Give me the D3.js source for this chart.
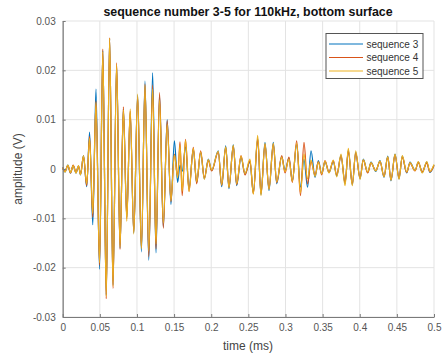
<!DOCTYPE html>
<html><head><meta charset="utf-8">
<script src="https://cdn.jsdelivr.net/npm/d3@7"></script>
<style>body{margin:0;background:#fff}svg{display:block}text{font-family:Arial,"Liberation Sans",Helvetica,sans-serif}</style>
</head><body>
<script>
const title = "sequence number 3-5 for 110kHz, bottom surface";
const xLabel = "time (ms)";
const yLabel = "amplitude (V)";
const seriesNames = ["sequence 3", "sequence 4", "sequence 5"];
const seriesColors = ["#0072BD", "#D95319", "#EDB120"];
const xTicks = [0, 0.05, 0.1, 0.15, 0.2, 0.25, 0.3, 0.35, 0.4, 0.45, 0.5];
const xTickLabels = ["0", "0.05", "0.1", "0.15", "0.2", "0.25", "0.3", "0.35", "0.4", "0.45", "0.5"];
const yTicks = [-0.03, -0.02, -0.01, 0, 0.01, 0.02, 0.03];
const yTickLabels = ["-0.03", "-0.02", "-0.01", "0", "0.01", "0.02", "0.03"];

// times (ms) of the waveform's successive peaks/troughs
const time = [0.0000,0.0031,0.0069,0.0105,0.0141,0.0179,0.0213,0.0240,0.0280,0.0323,
0.0362,0.0405,0.0448,0.0496,0.0540,0.0586,0.0632,0.0677,0.0726,0.0772,
0.0817,0.0863,0.0909,0.0957,0.1009,0.1060,0.1108,0.1159,0.1211,0.1256,
0.1304,0.1355,0.1407,0.1457,0.1504,0.1548,0.1580,0.1609,0.1654,0.1701,
0.1759,0.1804,0.1858,0.1907,0.1961,0.2006,0.2095,0.2141,0.2195,0.2239,
0.2297,0.2343,0.2401,0.2455,0.2522,0.2567,0.2626,0.2670,0.2724,0.2778,
0.2836,0.2882,0.2949,0.2994,0.3047,0.3092,0.3151,0.3202,0.3249,0.3297,
0.3344,0.3398,0.3443,0.3488,0.3532,0.3586,0.3644,0.3690,0.3748,0.3802,
0.3846,0.3900,0.3946,0.4004,0.4048,0.4107,0.4152,0.4215,0.4273,0.4327,
0.4377,0.4421,0.4475,0.4529,0.4573,0.4632,0.4677,0.4744,0.4789,0.4842,
0.4902,0.4946,0.5000];

const seq3 = [0.0003,-0.0006,0.0008,-0.0008,0.0007,-0.0008,0.0006,-0.0012,0.0027,-0.0036,
0.0075,-0.0113,0.0162,-0.0203,0.0240,-0.0255,0.0264,-0.0235,0.0210,-0.0160,
0.0122,-0.0098,0.0115,-0.0130,0.0150,-0.0168,0.0178,-0.0185,0.0195,-0.0170,
0.0150,-0.0118,0.0100,-0.0072,0.0057,-0.0027,0.0008,-0.0005,0.0045,-0.0040,
0.0040,-0.0028,0.0034,-0.0020,0.0020,-0.0003,0.0037,-0.0036,0.0047,-0.0040,
0.0049,-0.0034,0.0024,-0.0010,0.0015,-0.0048,0.0062,-0.0052,0.0054,-0.0044,
0.0054,-0.0030,0.0025,-0.0003,0.0022,-0.0024,0.0050,-0.0037,0.0020,-0.0037,
0.0037,-0.0017,0.0017,-0.0010,0.0015,-0.0007,0.0015,-0.0014,0.0028,-0.0030,
0.0038,-0.0032,0.0034,-0.0020,0.0020,-0.0007,0.0014,-0.0005,0.0017,-0.0017,
0.0026,-0.0024,0.0030,-0.0020,0.0026,-0.0008,0.0014,-0.0003,0.0014,-0.0007,
0.0014,-0.0007,0.0008];

const seq4 = [0.0003,-0.0005,0.0007,-0.0008,0.0008,-0.0007,0.0006,-0.0011,0.0026,-0.0034,
0.0066,-0.0098,0.0138,-0.0195,0.0243,-0.0263,0.0266,-0.0242,0.0215,-0.0163,
0.0126,-0.0101,0.0118,-0.0128,0.0146,-0.0160,0.0172,-0.0178,0.0170,-0.0162,
0.0155,-0.0120,0.0098,-0.0066,0.0030,-0.0015,0.0055,-0.0054,0.0060,-0.0045,
0.0044,-0.0030,0.0037,-0.0018,0.0017,-0.0004,0.0034,-0.0033,0.0044,-0.0037,
0.0046,-0.0032,0.0027,-0.0012,0.0017,-0.0050,0.0060,-0.0050,0.0050,-0.0040,
0.0050,-0.0028,0.0027,-0.0008,0.0024,-0.0027,0.0057,-0.0054,0.0054,-0.0030,
0.0015,-0.0012,0.0015,-0.0012,0.0017,-0.0006,0.0017,-0.0012,0.0026,-0.0028,
0.0036,-0.0030,0.0032,-0.0018,0.0018,-0.0008,0.0012,-0.0003,0.0015,-0.0015,
0.0024,-0.0022,0.0028,-0.0018,0.0024,-0.0007,0.0012,-0.0004,0.0013,-0.0006,
0.0012,-0.0006,0.0007];

const seq5 = [0.0002,-0.0006,0.0008,-0.0007,0.0007,-0.0008,0.0007,-0.0012,0.0027,-0.0030,
0.0062,-0.0090,0.0135,-0.0190,0.0238,-0.0258,0.0265,-0.0238,0.0212,-0.0158,
0.0120,-0.0106,0.0122,-0.0132,0.0152,-0.0162,0.0170,-0.0166,0.0162,-0.0152,
0.0140,-0.0110,0.0090,-0.0064,0.0028,-0.0018,0.0048,-0.0045,0.0058,-0.0046,
0.0042,-0.0026,0.0035,-0.0021,0.0019,-0.0002,0.0036,-0.0032,0.0045,-0.0038,
0.0048,-0.0030,0.0026,-0.0009,0.0020,-0.0051,0.0068,-0.0054,0.0052,-0.0042,
0.0052,-0.0026,0.0024,-0.0005,0.0020,-0.0025,0.0052,-0.0048,0.0030,-0.0020,
0.0018,-0.0015,0.0014,-0.0010,0.0016,-0.0008,0.0018,-0.0016,0.0030,-0.0034,
0.0042,-0.0034,0.0037,-0.0021,0.0019,-0.0006,0.0013,-0.0004,0.0016,-0.0016,
0.0025,-0.0023,0.0030,-0.0021,0.0027,-0.0006,0.0013,-0.0003,0.0015,-0.0008,
0.0015,-0.0005,0.0009];

const allSeries = [seq3, seq4, seq5];

const W = 444, H = 356;
const svg = d3.select("body").append("svg").attr("width", W).attr("height", H);
const x = d3.scaleLinear().domain([0, 0.5]).range([62.7, 434]);
const y = d3.scaleLinear().domain([-0.03, 0.03]).range([317, 21]);

// grid
svg.append("g").selectAll("line").data(xTicks).join("line")
  .attr("x1", d => x(d)).attr("x2", d => x(d)).attr("y1", y(-0.03)).attr("y2", y(0.03))
  .attr("stroke", "#e3e3e3").attr("stroke-width", 1);
svg.append("g").selectAll("line").data(yTicks).join("line")
  .attr("y1", d => y(d)).attr("y2", d => y(d)).attr("x1", x(0)).attr("x2", x(0.5))
  .attr("stroke", "#e3e3e3").attr("stroke-width", 1);

// lines
const line = d3.line().x((d, i) => x(time[i])).y(d => y(d)).curve(d3.curveMonotoneX);
allSeries.forEach((s, k) => {
  svg.append("path").datum(s).attr("d", line).attr("fill", "none")
    .attr("stroke", seriesColors[k]).attr("stroke-width", 1.2).attr("stroke-linejoin", "round");
});

// axes
const xAxis = d3.axisBottom(x).tickValues(xTicks).tickFormat((d, i) => xTickLabels[i]).tickSizeInner(-3).tickSizeOuter(0).tickPadding(7);
const gx = svg.append("g").attr("transform", `translate(0,${y(-0.03)})`).call(xAxis);
const yAxis = d3.axisLeft(y).tickValues(yTicks).tickFormat((d, i) => yTickLabels[i]).tickSizeInner(-3).tickSizeOuter(0).tickPadding(7);
const gy = svg.append("g").attr("transform", `translate(${x(0)},0)`).call(yAxis);
[gx, gy].forEach(g => {
  g.select(".domain").attr("stroke", "#7a7a7a").attr("stroke-width", 1.2);
  g.selectAll(".tick line").attr("stroke", "#7a7a7a");
  g.selectAll(".tick text").attr("fill", "#555").style("font-size", "10px").style("font-family", "Arial, 'Liberation Sans', sans-serif");
});

// labels
svg.append("text").attr("x", 248).attr("y", 16).attr("text-anchor", "middle")
  .style("font-size", "12.4px").style("font-weight", "bold").attr("fill", "#111").text(title);
svg.append("text").attr("x", 248).attr("y", 350).attr("text-anchor", "middle")
  .style("font-size", "12px").attr("fill", "#444").text(xLabel);
svg.append("text").attr("transform", `translate(22,169) rotate(-90)`).attr("text-anchor", "middle")
  .style("font-size", "12px").attr("fill", "#444").text(yLabel);

// legend
const lg = svg.append("g");
lg.append("rect").attr("x", 326).attr("y", 33.5).attr("width", 97).attr("height", 45)
  .attr("fill", "#fff").attr("stroke", "#555").attr("stroke-width", 1);
const rowsY = [44, 57.5, 71];
seriesNames.forEach((n, i) => {
  lg.append("line").attr("x1", 329).attr("x2", 363).attr("y1", rowsY[i]).attr("y2", rowsY[i])
    .attr("stroke", seriesColors[i]).attr("stroke-width", 1.2);
  lg.append("text").attr("x", 366.5).attr("y", rowsY[i] + 3.5).style("font-size", "10px")
    .attr("fill", "#333").text(n);
});
</script>
</body></html>
